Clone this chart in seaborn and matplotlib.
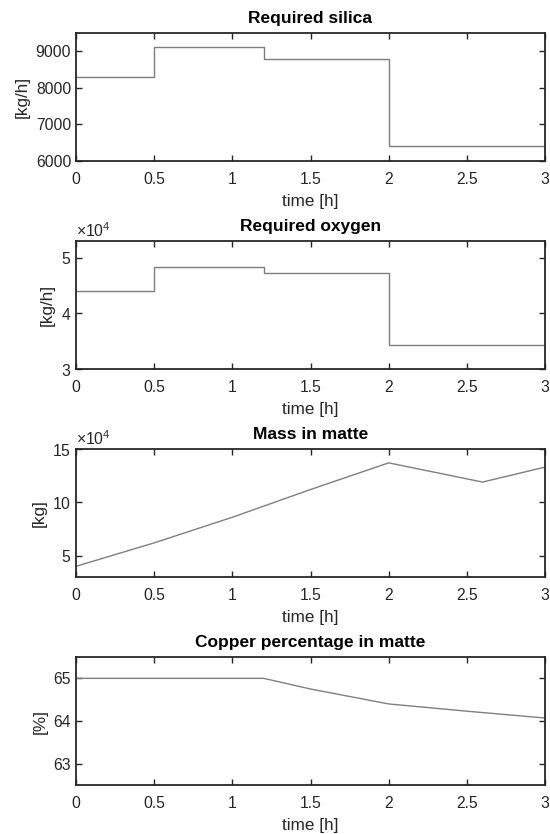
import numpy as np
import pandas as pd
import matplotlib
matplotlib.use("Agg")
import matplotlib.pyplot as plt
from matplotlib.ticker import ScalarFormatter
import seaborn as sns

# step series (last value repeated so the step reaches t = 3 h)
silica_t = [0, 0.5, 1.2, 2.0, 3.0]
silica = [8300, 9130, 8800, 6400, 6400]

oxygen_t = [0, 0.5, 1.2, 2.0, 3.0]
oxygen = [44000, 48400, 47200, 34300, 34300]

mass_t = [0, 0.5, 1.0, 1.5, 2.0, 2.6, 3.0]
mass = [40000, 62000, 86000, 112000, 137000, 119000, 133000]

copper_t = [0, 0.5, 1.0, 1.2, 1.5, 2.0, 2.5, 3.0]
copper = [65.0, 65.0, 65.0, 65.0, 64.75, 64.4, 64.23, 64.07]

time_ticks = [0, 0.5, 1, 1.5, 2, 2.5, 3]
time_labels = ["0", "0.5", "1", "1.5", "2", "2.5", "3"]

sns.set_style("ticks")
plt.rcParams["font.family"] = ["Liberation Sans", "DejaVu Sans"]
plt.rcParams["mathtext.fontset"] = "custom"
plt.rcParams["mathtext.rm"] = "Liberation Sans"
plt.rcParams["mathtext.it"] = "Liberation Sans"

LINE = "#7f7f7f"
TEXT = "#262626"

fig = plt.figure(figsize=(5.5, 8.34), dpi=100)
left, width, height = 76 / 550, (545 - 76) / 550, 128 / 834
bottoms_px = [161, 369, 577, 785]

panels = [
    dict(t=silica_t, y=silica, steps=True, title="Required silica", ylabel="[kg/h]",
         ylim=(6000, 9500), yticks=[6000, 7000, 8000, 9000], sci=False),
    dict(t=oxygen_t, y=oxygen, steps=True, title="Required oxygen", ylabel="[kg/h]",
         ylim=(30000, 53000), yticks=[30000, 40000, 50000], sci=True),
    dict(t=mass_t, y=mass, steps=False, title="Mass in matte", ylabel="[kg]",
         ylim=(30000, 150000), yticks=[50000, 100000, 150000], sci=True),
    dict(t=copper_t, y=copper, steps=False, title="Copper percentage in matte", ylabel="[%]",
         ylim=(62.5, 65.5), yticks=[63, 64, 65], sci=False),
]

for p, bpx in zip(panels, bottoms_px):
    ax = fig.add_axes([left, (834 - bpx) / 834, width, height])
    df = pd.DataFrame({"t": p["t"], "v": p["y"]})
    kw = {"drawstyle": "steps-post"} if p["steps"] else {}
    sns.lineplot(data=df, x="t", y="v", ax=ax, color=LINE, linewidth=1.0, **kw)
    ax.set_xlim(0, 3)
    ax.set_ylim(*p["ylim"])
    ax.set_xticks(time_ticks)
    ax.set_xticklabels(time_labels)
    ax.set_yticks(p["yticks"])
    if p["sci"]:
        fmt = ScalarFormatter(useMathText=True)
        fmt.set_powerlimits((4, 4))
        ax.yaxis.set_major_formatter(fmt)
        ax.yaxis.offsetText.set_fontsize(11.3)
        ax.yaxis.offsetText.set_color("#555555")
    ax.set_title(p["title"], fontsize=12.5, fontweight="bold", color="black", pad=7)
    ax.set_xlabel("time [h]", fontsize=12.3, color=TEXT, labelpad=5)
    ax.set_ylabel(p["ylabel"], fontsize=12.3, color=TEXT, labelpad=4)
    ax.tick_params(direction="in", length=4, width=1.0, top=True, right=True,
                   labelsize=11.3, colors=TEXT, labelcolor=TEXT)
    ax.tick_params(axis="x", labeltop=False, pad=8)
    ax.tick_params(axis="y", labelright=False, pad=3.5)
    for s in ax.spines.values():
        s.set_visible(True)
        s.set_linewidth(1.3)
        s.set_color("#262626")

plt.savefig("out.png", dpi=100)
plt.close()
